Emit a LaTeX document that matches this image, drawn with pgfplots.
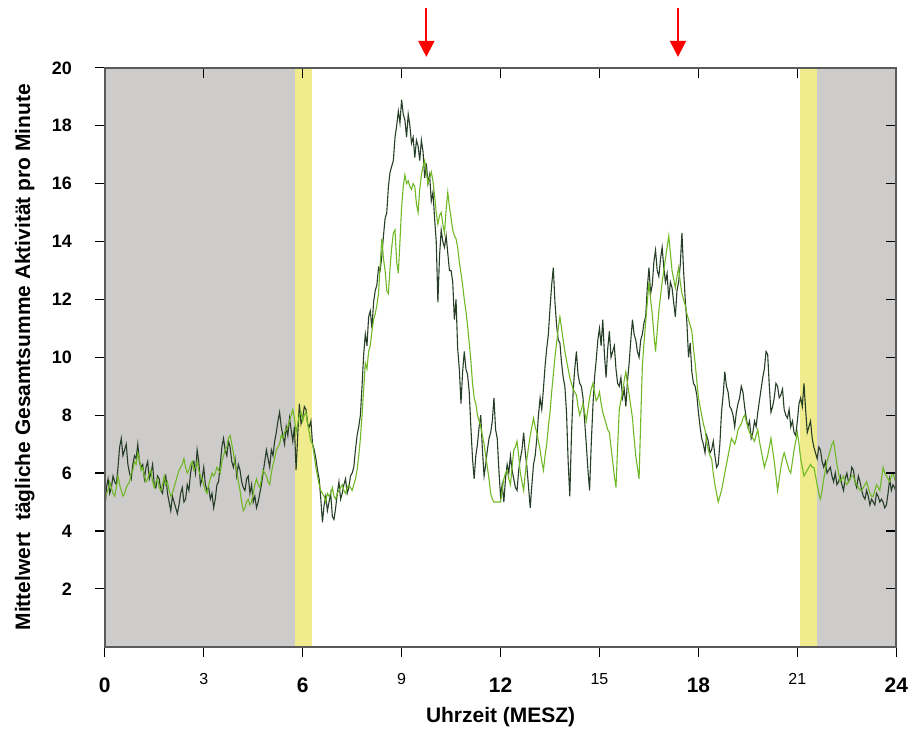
\documentclass[border=0pt]{standalone}
\usepackage{pgfplots}
\pgfplotsset{compat=1.18}
\usepackage{pgfplotstable}
\usepackage{fontspec}
\setmainfont{Liberation Sans}
\usetikzlibrary{arrows.meta}
\definecolor{bggray}{RGB}{206,203,203}
\definecolor{bgyellow}{RGB}{240,236,142}
\definecolor{dgreen}{RGB}{38,62,38}
\definecolor{lgreen}{RGB}{112,184,38}
\definecolor{axgray}{RGB}{90,90,90}
\newcommand{\bl}[1]{{\bfseries\fontsize{10.5}{11}\selectfont #1}}
\newcommand{\smlab}[1]{\raisebox{4pt}{\fontsize{8}{9}\selectfont #1}}

% dark green series, 0.05 h steps
\pgfplotstableread[row sep=\\]{y\\
4.7\\5.5\\5.8\\5.3\\5.5\\5.9\\5.7\\5.6\\6.2\\6.9\\7.2\\6.6\\6.8\\7.0\\6.3\\6.0\\5.8\\6.3\\6.6\\6.5\\
7.0\\6.4\\6.2\\6.3\\5.8\\6.2\\6.4\\5.8\\6.0\\6.3\\5.6\\5.5\\5.9\\5.8\\5.4\\5.3\\5.7\\5.9\\5.3\\5.0\\
4.7\\5.2\\5.0\\4.8\\4.6\\4.9\\5.3\\5.5\\5.0\\5.1\\5.6\\5.4\\6.0\\6.3\\6.4\\6.0\\6.8\\6.4\\5.6\\5.8\\
6.2\\5.6\\5.4\\5.5\\5.1\\5.3\\4.8\\5.1\\5.6\\5.7\\6.3\\6.9\\7.2\\6.8\\6.6\\7.1\\6.9\\6.4\\6.2\\6.5\\
5.9\\6.3\\6.1\\5.7\\5.5\\5.4\\5.8\\5.9\\5.3\\5.6\\5.0\\5.2\\4.8\\5.0\\5.3\\5.6\\6.0\\6.4\\6.8\\6.5\\
6.2\\6.8\\6.6\\7.1\\7.4\\7.8\\8.1\\7.6\\7.3\\7.0\\7.6\\7.3\\7.9\\7.5\\7.1\\7.6\\6.1\\7.3\\8.4\\7.7\\
7.9\\8.3\\8.2\\7.7\\7.6\\7.8\\7.0\\6.8\\6.5\\6.1\\5.8\\5.1\\4.3\\4.9\\5.2\\4.7\\5.0\\5.3\\4.5\\4.4\\
4.8\\5.3\\5.7\\5.1\\5.3\\5.6\\5.8\\5.3\\5.5\\5.9\\6.0\\6.2\\6.8\\7.3\\7.6\\8.0\\9.0\\10.1\\10.8\\10.4\\
11.4\\11.6\\11.0\\11.9\\12.3\\12.5\\13.1\\13.0\\13.5\\14.2\\14.8\\15.0\\15.9\\16.4\\16.6\\16.8\\17.6\\18.0\\18.5\\18.1\\
18.9\\18.4\\18.2\\17.6\\18.4\\18.0\\17.4\\17.6\\16.9\\17.5\\17.3\\16.8\\17.5\\17.1\\16.2\\16.7\\16.0\\16.3\\15.4\\15.7\\
14.8\\14.0\\11.9\\13.5\\14.4\\14.0\\13.8\\14.2\\13.6\\13.0\\13.0\\12.6\\11.3\\12.0\\10.3\\9.6\\8.4\\9.5\\10.2\\9.6\\
9.4\\8.8\\7.6\\6.5\\5.8\\6.6\\7.0\\7.6\\8.0\\6.8\\5.9\\6.3\\6.8\\7.2\\7.4\\7.8\\8.6\\7.5\\7.2\\6.1\\
5.2\\5.6\\5.0\\5.8\\6.3\\6.0\\6.6\\6.1\\5.8\\5.5\\5.4\\6.1\\6.5\\6.8\\7.4\\6.7\\6.2\\5.5\\4.8\\5.6\\
6.3\\6.6\\7.2\\8.0\\8.6\\8.2\\8.9\\9.7\\10.3\\10.8\\11.7\\12.5\\13.1\\11.9\\11.1\\10.6\\10.5\\9.8\\9.3\\9.0\\
8.1\\6.4\\5.2\\7.3\\8.8\\9.6\\10.2\\9.4\\9.1\\9.0\\8.6\\7.8\\7.0\\6.1\\5.4\\7.0\\8.3\\9.3\\9.9\\10.6\\
11.0\\10.4\\11.3\\10.1\\9.3\\10.3\\10.9\\10.0\\10.2\\10.4\\9.6\\9.1\\9.0\\9.3\\8.6\\8.9\\8.3\\9.2\\9.8\\10.6\\
11.3\\10.8\\10.6\\10.2\\10.0\\10.6\\10.8\\11.2\\11.4\\12.4\\13.1\\12.2\\12.5\\13.3\\13.7\\13.0\\12.8\\13.4\\13.8\\13.1\\
12.6\\12.9\\12.0\\12.6\\12.4\\11.9\\11.4\\12.3\\12.6\\13.2\\14.3\\13.0\\12.0\\11.2\\10.0\\10.5\\9.5\\9.1\\9.0\\8.7\\
8.1\\7.6\\7.2\\7.0\\6.7\\7.3\\7.1\\6.7\\6.8\\7.1\\6.6\\6.2\\6.3\\7.0\\8.1\\8.7\\9.5\\9.0\\8.8\\8.3\\
8.2\\8.0\\7.6\\8.1\\8.4\\8.6\\9.0\\8.8\\8.3\\7.9\\7.6\\7.8\\7.2\\7.4\\7.8\\7.6\\8.1\\8.5\\8.9\\9.3\\
9.6\\10.2\\10.1\\9.0\\8.1\\8.3\\8.6\\9.1\\9.0\\8.6\\8.7\\8.9\\8.2\\8.0\\7.9\\8.2\\7.6\\7.8\\7.4\\7.3\\
7.8\\8.4\\8.6\\8.3\\9.1\\8.2\\7.4\\7.6\\7.8\\7.2\\6.9\\6.7\\6.5\\6.9\\6.8\\6.4\\6.2\\6.4\\6.0\\6.1\\
6.2\\5.9\\5.7\\6.0\\5.6\\5.7\\5.9\\5.6\\5.4\\5.8\\6.0\\5.7\\5.8\\6.2\\6.1\\5.7\\5.5\\5.9\\5.7\\5.4\\
5.2\\5.1\\5.4\\5.2\\4.9\\5.1\\5.0\\4.9\\5.3\\5.2\\5.0\\5.1\\5.0\\4.8\\4.9\\5.3\\5.8\\5.4\\5.6\\5.5\\
5.3\\
}\darkdata

% light green series, 0.05 h steps
\pgfplotstableread[row sep=\\]{y\\
5.0\\5.3\\5.4\\5.7\\5.5\\5.3\\5.2\\5.5\\5.9\\5.6\\5.4\\5.2\\5.3\\5.5\\5.6\\5.7\\6.0\\6.1\\6.4\\6.3\\
6.7\\6.5\\6.1\\6.2\\5.9\\5.7\\5.8\\6.0\\6.1\\5.7\\5.5\\5.7\\5.8\\5.5\\5.4\\5.6\\5.9\\5.6\\5.7\\5.4\\
5.2\\5.3\\5.5\\5.7\\5.9\\6.1\\6.2\\6.3\\6.5\\6.2\\6.0\\6.1\\6.3\\6.4\\6.1\\6.2\\6.4\\6.1\\5.9\\5.8\\
5.6\\5.4\\5.3\\5.6\\5.8\\6.0\\5.9\\6.0\\6.2\\6.1\\6.0\\6.4\\6.6\\6.8\\6.9\\7.2\\7.3\\7.0\\6.7\\6.3\\
6.1\\5.7\\5.4\\5.0\\4.7\\4.8\\5.0\\5.1\\4.9\\5.0\\5.3\\5.6\\5.8\\5.6\\5.5\\5.8\\6.1\\6.0\\5.9\\5.7\\
5.6\\6.0\\6.3\\6.5\\6.8\\6.9\\7.0\\7.3\\7.2\\7.4\\7.5\\7.6\\7.8\\8.0\\8.2\\7.9\\7.4\\7.7\\8.0\\8.1\\
7.8\\8.0\\8.1\\7.7\\7.4\\7.1\\7.0\\6.6\\6.2\\5.9\\5.6\\5.4\\5.3\\5.2\\5.0\\5.3\\5.2\\5.3\\5.5\\5.2\\
5.1\\5.3\\5.4\\5.5\\5.6\\5.4\\5.3\\5.5\\5.6\\5.5\\5.4\\5.6\\5.8\\6.1\\6.6\\7.2\\8.0\\8.9\\9.8\\9.6\\
10.2\\10.4\\10.9\\11.3\\11.5\\11.8\\12.2\\13.2\\14.1\\13.4\\13.0\\12.3\\12.2\\13.1\\13.8\\14.3\\14.4\\13.3\\12.9\\14.0\\
15.2\\15.9\\16.3\\16.0\\16.1\\15.9\\15.8\\16.0\\15.9\\15.3\\15.0\\15.8\\16.3\\16.6\\16.8\\16.4\\16.0\\16.2\\16.4\\16.1\\
15.6\\15.0\\14.6\\14.9\\15.0\\14.6\\14.3\\15.1\\15.7\\15.2\\14.8\\14.4\\14.2\\14.1\\13.8\\13.3\\12.9\\12.5\\12.0\\11.6\\
11.1\\10.5\\9.9\\9.1\\8.6\\8.4\\8.0\\7.8\\7.6\\7.3\\7.0\\6.6\\6.2\\5.8\\5.3\\5.1\\5.0\\5.0\\5.0\\5.0\\
5.0\\5.4\\5.8\\6.0\\6.1\\5.8\\5.6\\6.2\\6.8\\6.9\\7.1\\6.6\\6.0\\5.7\\5.4\\6.0\\6.5\\6.9\\7.3\\7.6\\
7.9\\7.6\\7.4\\7.1\\6.8\\6.4\\6.1\\6.6\\7.0\\7.6\\8.1\\8.8\\9.4\\10.0\\10.5\\11.0\\11.4\\11.0\\10.6\\10.2\\
9.9\\9.6\\9.3\\9.1\\8.9\\8.8\\8.7\\8.3\\8.0\\8.2\\8.4\\8.1\\7.8\\8.2\\8.6\\8.9\\9.1\\8.8\\8.5\\8.6\\
8.8\\8.4\\8.1\\7.9\\7.7\\7.5\\7.4\\6.9\\6.4\\5.9\\5.5\\6.9\\8.2\\8.5\\8.8\\9.2\\9.5\\9.1\\8.7\\8.3\\
7.9\\7.2\\6.6\\6.2\\5.8\\7.8\\9.7\\10.5\\11.2\\11.9\\12.6\\12.0\\11.5\\10.8\\10.2\\10.9\\11.6\\12.1\\12.6\\13.0\\
13.4\\13.8\\14.2\\13.6\\13.0\\12.7\\12.4\\12.8\\13.1\\12.6\\12.2\\12.0\\11.8\\11.5\\11.3\\11.1\\10.9\\10.3\\9.8\\9.2\\
8.6\\8.3\\8.0\\7.7\\7.5\\7.1\\6.8\\6.6\\6.5\\6.0\\5.6\\5.3\\5.0\\5.2\\5.4\\5.7\\6.0\\6.3\\6.6\\6.9\\
7.2\\7.1\\7.0\\7.2\\7.5\\7.6\\7.7\\7.9\\8.0\\7.8\\7.6\\7.4\\7.3\\7.2\\7.1\\7.3\\7.5\\7.1\\6.8\\6.5\\
6.2\\6.4\\6.6\\6.9\\7.2\\6.8\\6.4\\5.9\\5.4\\5.8\\6.2\\6.5\\6.7\\6.5\\6.3\\6.1\\6.0\\6.4\\6.8\\7.1\\
7.4\\7.0\\6.5\\6.2\\5.9\\6.0\\6.1\\6.2\\6.3\\6.2\\6.2\\5.9\\5.6\\5.3\\5.1\\5.4\\5.8\\6.1\\6.4\\6.6\\
6.8\\7.0\\7.1\\6.7\\6.3\\6.0\\5.7\\5.8\\5.9\\5.7\\5.6\\5.7\\5.8\\5.9\\5.9\\5.7\\5.6\\5.5\\5.4\\5.4\\
5.5\\5.6\\5.7\\5.5\\5.3\\5.2\\5.2\\5.4\\5.6\\5.5\\5.4\\5.8\\6.2\\6.0\\5.9\\5.8\\5.7\\5.9\\6.0\\5.8\\
5.6\\
}\lightdata

\begin{document}
\begin{tikzpicture}
\begin{axis}[
  width=396.5pt, height=290pt, scale only axis,
  xmin=0, xmax=24, ymin=0, ymax=20,
  clip=false,
  axis line style={axgray, line width=0.9pt},
  tick style={black, line width=0.6pt},
  major tick length=5pt,
  tick align=outside,
  xtick pos=left, ytick pos=left,
  xtick={0,3,...,24},
  xticklabels={\bl{0},\smlab{3},\bl{6},\smlab{9},\bl{12},\smlab{15},\bl{18},\smlab{21},\bl{24}},
  xticklabel style={anchor=base, inner sep=0pt, yshift=-18pt},
  ytick={2,4,...,20},
  yticklabel style={font=\bfseries\fontsize{9}{10}\selectfont, xshift=-8pt},
  /pgf/number format/assume math mode=true,
  xlabel={Uhrzeit (MESZ)},
  xlabel style={font=\bfseries\fontsize{10.5}{12}\selectfont, at={(axis description cs:0.5,-0.121)}, anchor=center},
  ylabel={Mittelwert\ \ tägliche Gesamtsumme Aktivität pro Minute},
  ylabel style={font=\bfseries\fontsize{10.5}{12}\selectfont, at={(axis description cs:-0.101,0.5)}, anchor=center},
  axis on top,
]
\addplot[draw=none, fill=bggray] coordinates {(0,20) (5.76,20)} \closedcycle;
\addplot[draw=none, fill=bgyellow] coordinates {(5.76,20) (6.28,20)} \closedcycle;
\addplot[draw=none, fill=bgyellow] coordinates {(21.08,20) (21.6,20)} \closedcycle;
\addplot[draw=none, fill=bggray] coordinates {(21.6,20) (24,20)} \closedcycle;
\addplot[dgreen, line width=0.55pt, no marks] table[x expr=\coordindex/20, y=y] {\darkdata};
\addplot[lgreen, line width=0.55pt, no marks] table[x expr=\coordindex/20, y=y] {\lightdata};
\draw[red, line width=1pt, -{Triangle[width=8pt,length=8pt]}] (axis cs:9.75,22.07) -- (axis cs:9.75,20.38);
\draw[red, line width=1pt, -{Triangle[width=8pt,length=8pt]}] (axis cs:17.38,22.07) -- (axis cs:17.38,20.38);
\path ([xshift=-52.5pt,yshift=-42.5pt]rel axis cs:0,0) rectangle ([xshift=6pt,yshift=34pt]rel axis cs:1,1);
\end{axis}
\begin{axis}[
  width=396.5pt, height=290pt, scale only axis,
  xmin=0, xmax=24, ymin=0, ymax=20,
  axis line style={axgray, line width=0.9pt},
  tick style={black, line width=0.6pt},
  major tick length=5pt,
  tick align=inside,
  xtick pos=right, ytick pos=right,
  xtick={0,3,...,24}, ytick={2,4,...,20},
  xticklabels={}, yticklabels={},
]
\end{axis}
\end{tikzpicture}
\end{document}
